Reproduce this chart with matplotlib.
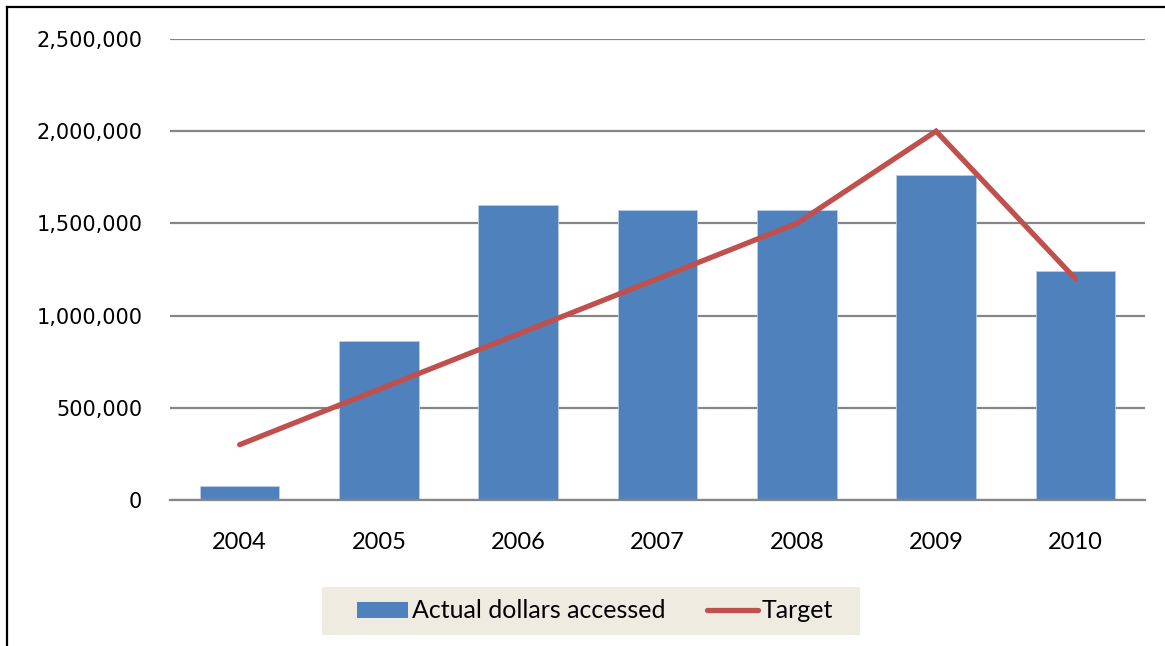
import matplotlib.pyplot as plt
from matplotlib.lines import Line2D
from matplotlib.patches import Patch, Rectangle
from matplotlib.ticker import FuncFormatter

years = ["2004", "2005", "2006", "2007", "2008", "2009", "2010"]
actual = [76000, 864000, 1600000, 1575000, 1575000, 1762000, 1240000]
target = [300000, 600000, 900000, 1200000, 1500000, 2000000, 1200000]

BAR_BLUE = "#4F81BD"
LINE_RED = "#C0504D"
GRID_GRAY = "#868686"
LEGEND_BG = "#EEECE1"

W, H = 1165, 646
fig = plt.figure(figsize=(W / 100, H / 100), dpi=100)
ax = fig.add_axes([170 / W, 1 - 500 / H, 975 / W, 461 / H])

x = list(range(len(years)))
ax.bar(x, actual, width=0.571, color=BAR_BLUE, edgecolor="#B9CDE5",
       linewidth=0.6, zorder=2)
ax.plot(x, target, color=LINE_RED, linewidth=3.8, solid_capstyle="round",
        solid_joinstyle="miter", zorder=3)

ax.set_xlim(-0.5, len(years) - 0.5)
ax.set_ylim(0, 2500000)
ax.set_yticks(range(0, 2500001, 500000))
ax.yaxis.set_major_formatter(FuncFormatter(lambda v, _: f"{int(v):,}"))
ax.set_xticks(x)
ax.set_xticklabels(years, fontfamily="Lato", fontsize=17)
for lbl in ax.get_yticklabels():
    lbl.set_fontfamily("DejaVu Sans")
    lbl.set_fontsize(15)

ax.tick_params(axis="y", length=0, pad=20)
ax.tick_params(axis="x", length=0, pad=23)
ax.yaxis.grid(True, color=GRID_GRAY, linewidth=1.6, zorder=0)
ax.set_axisbelow(True)
for side in ("top", "right", "left"):
    ax.spines[side].set_visible(False)
ax.spines["bottom"].set_color(GRID_GRAY)
ax.spines["bottom"].set_linewidth(1.6)

# legend sits on a flat beige panel
fig.add_artist(Rectangle((322 / W, 1 - 635 / H), 538 / W, 48 / H,
                         transform=fig.transFigure, facecolor=LEGEND_BG,
                         edgecolor="none", zorder=0))
handles = [Patch(facecolor=BAR_BLUE, edgecolor="none"),
           Line2D([0], [0], color=LINE_RED, linewidth=3.8, solid_capstyle="round")]
leg = fig.legend(handles, ["Actual dollars accessed", "Target"],
                 loc="center", bbox_to_anchor=(595 / W, 1 - 611 / H),
                 ncol=2, frameon=False,
                 prop={"family": "Lato", "size": 18},
                 handlelength=2.05, handleheight=0.6, handletextpad=0.15,
                 columnspacing=1.65, borderpad=0, borderaxespad=0)

# outer chart frame (left and top edges)
fig.add_artist(Line2D([7 / W, 7 / W], [0, 1 - 7 / H],
                      transform=fig.transFigure, color="black", linewidth=1.6))
fig.add_artist(Line2D([7 / W, 1], [1 - 7 / H, 1 - 7 / H],
                      transform=fig.transFigure, color="black", linewidth=1.6))

fig.savefig("out.png", dpi=100)
